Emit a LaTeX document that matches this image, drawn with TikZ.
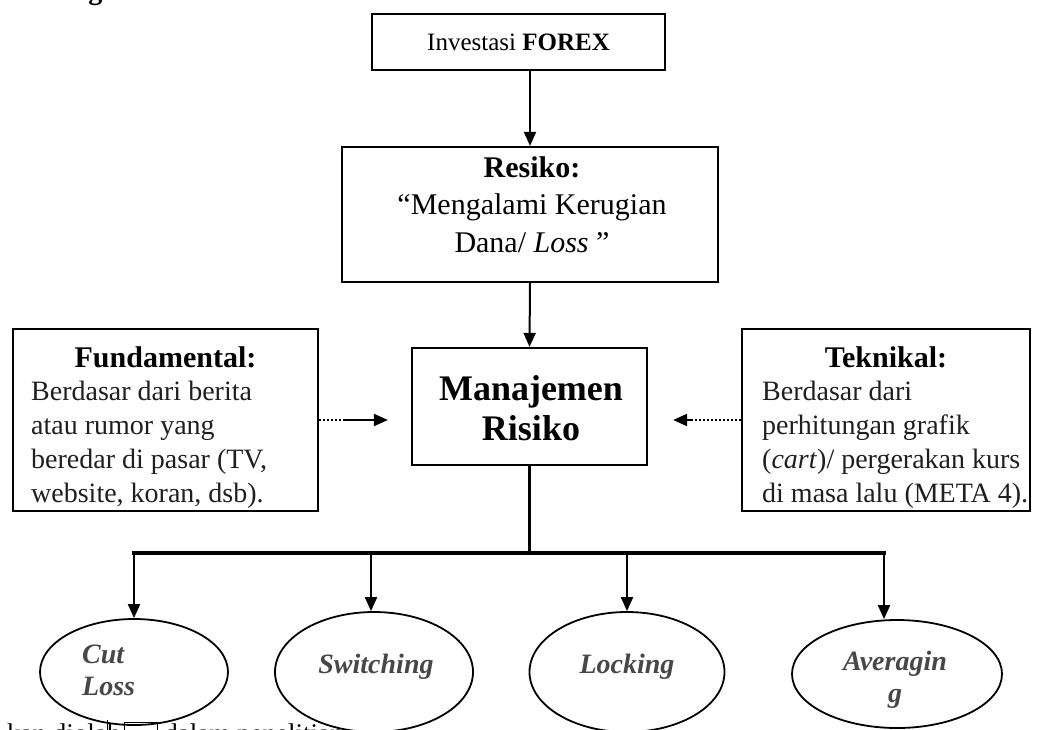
\documentclass[tikz,border=0pt]{standalone}
\usepackage{fontspec}
\setmainfont{Liberation Serif}
\usetikzlibrary{arrows.meta,shapes.geometric,calc}
\begin{document}
\begin{tikzpicture}[x=1pt,y=-1pt,
  boxnode/.style={draw, line width=2.2pt, inner sep=0pt},
  flow/.style={line width=2pt, -{Triangle[length=14pt,width=12pt]}},
  trunk/.style={line width=3.5pt},
  oval/.style={draw, ellipse, line width=1.8pt, inner sep=0pt},
  ovaltext/.style={text=black!72, inner sep=0pt, font=\fontsize{28}{32}\selectfont\bfseries\itshape},
  body/.style={inner sep=0pt, align=left, text=black!88, font=\fontsize{28}{34}\selectfont},
  sidehead/.style={inner sep=0pt, font=\fontsize{30}{34}\selectfont\bfseries}]
\useasboundingbox (0,0) rectangle (1044,729);

% running text of the page, cut by the frame
\begin{scope}
  \clip (0,0) rectangle (1044,729);
  \node[anchor=base west, inner sep=0pt, font=\fontsize{28}{32}\selectfont\bfseries] (pagehead) at (12,-1) {Kerangka Pemikiran};
  \node[anchor=base west, inner sep=0pt, font=\fontsize{27}{32}\selectfont] (pagefoot) at (7,742) {kan diolah\hspace{44pt}dalam penelitian};
  \draw[line width=1pt] (107,720) -- (107,735);
  \draw[line width=1pt] (124,735) |- (157,722) -- (157,735);
\end{scope}

% main chain (multi-line texts are placed by the baseline of their last line)
\node[boxnode, minimum width=293pt, minimum height=56pt, font=\fontsize{25}{30}\selectfont]
  (inv) at (518.5,42) {Investasi \textbf{FOREX}};
\node[boxnode, minimum width=376pt, minimum height=135pt] (res) at (530,214.5) {};
\node[anchor=base, align=center, inner sep=0pt, font=\fontsize{30}{37.5}\selectfont]
  (restext) at (532,252) {\textbf{Resiko:}\\“Mengalami Kerugian\\Dana/ \textit{Loss} ”};
\node[boxnode, minimum width=235pt, minimum height=117pt] (man) at (529.5,406.5) {};
\node[anchor=base, align=center, inner sep=0pt, font=\fontsize{36}{40}\selectfont\bfseries]
  (mantext) at (531,440) {Manajemen\\Risiko};

% side boxes
\node[boxnode, minimum width=305pt, minimum height=182pt] (fund) at (165.5,420) {};
\node[sidehead, anchor=base] (fundhead) at (165.5,367) {Fundamental:};
\node[body, anchor=base west] (fundbody) at (31,502)
  {Berdasar dari berita\\atau rumor yang\\beredar di pasar (TV,\\website, koran, dsb).};
\node[boxnode, minimum width=288pt, minimum height=182pt] (tek) at (886,420) {};
\node[sidehead, anchor=base] (tekhead) at (886,367) {Teknikal:};
\node[body, anchor=base west] (tekbody) at (762,502)
  {Berdasar dari\\perhitungan grafik\\(\textit{cart})/ pergerakan kurs\\di masa lalu (META 4).};

% outcome ovals
\node[oval, minimum width=188pt, minimum height=106pt] (cut) at (134,672) {};
\node[oval, minimum width=198pt, minimum height=120pt] (swi) at (374,672) {};
\node[oval, minimum width=195pt, minimum height=120pt] (loc) at (627,672) {};
\node[oval, minimum width=210pt, minimum height=108pt] (avg) at (897,674) {};
\node[ovaltext, align=left, anchor=base west] (cutlbl) at (82,695) {Cut\\Loss};
\node[ovaltext, anchor=base] (swilbl) at (376,673) {Switching};
\node[ovaltext, anchor=base] (loclbl) at (627,673) {Locking};
\node[ovaltext, align=center, anchor=base] (avglbl) at (895,702) {Averagin\\g};

% connectors
\draw[flow] (inv.south -| res.north) -- (res.north);
\draw[flow] (res.south) -- (man.north);

\draw[dotted, line width=2pt] (fund.east) -- ++(24,0) coordinate (fdot);
\draw[flow, shorten >=23pt] (fdot) -- (man.west |- fund.east);
\draw[dotted, line width=2pt] (tek.west) -- ++(-50,0) coordinate (tdot);
\draw[flow, shorten >=25pt] (tdot) -- (man.east |- tek.west);

\draw[trunk] (man.south) -- ++(0,88) coordinate (hub);
\coordinate (b1) at (134,553);
\coordinate (b2) at (371,553);
\coordinate (b3) at (627,553);
\coordinate (b4) at (884,553);
\draw[trunk] ($(b1)+(-1.75,0)$) -- ($(b4)+(1.75,0)$);
\draw[flow] (b1) -- (b1 |- cut.north);
\draw[flow] (b2) -- (b2 |- swi.north);
\draw[flow] (b3) -- (b3 |- loc.north);
\draw[flow] (b4) -- (b4 |- avg.north);
\end{tikzpicture}
\end{document}
